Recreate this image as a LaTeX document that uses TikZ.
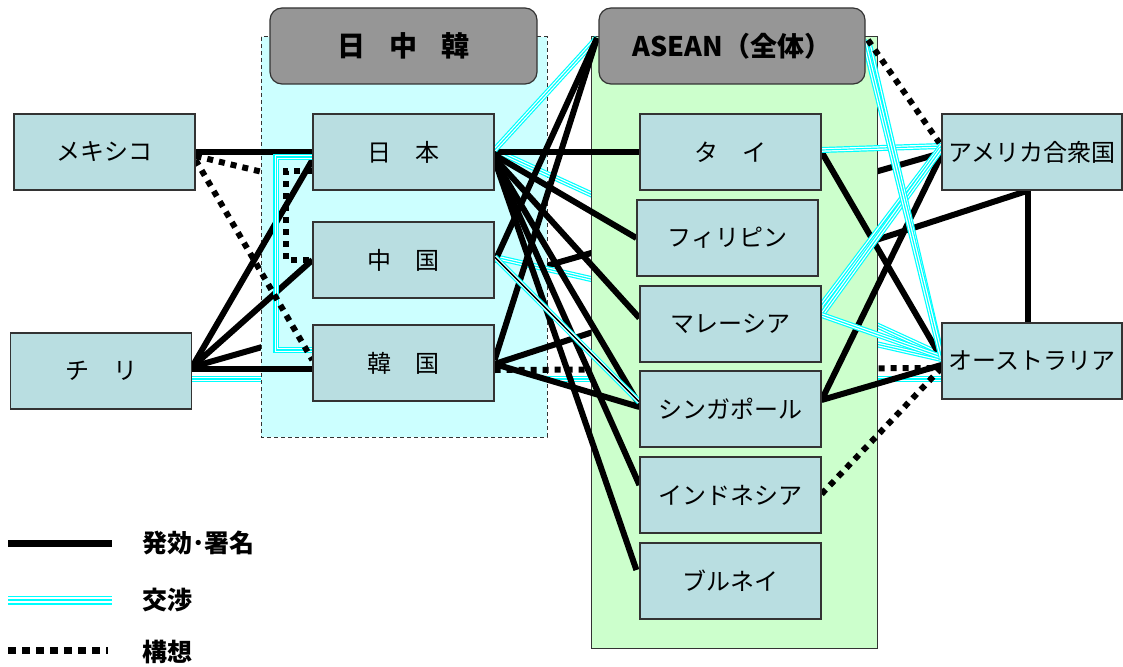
\documentclass[tikz,border=0pt]{standalone}
\usepackage{fontspec}
\newfontfamily\jp{Noto Sans CJK JP}
\usetikzlibrary{calc}
\pgfdeclarelayer{lzero}
\pgfdeclarelayer{lcjk}
\pgfdeclarelayer{lmid}
\pgfdeclarelayer{lase}
\pgfdeclarelayer{ltop}
\pgfsetlayers{lzero,lcjk,lmid,lase,ltop,main}
\definecolor{boxfill}{RGB}{185,222,225}
\definecolor{boxline}{RGB}{51,51,51}
\definecolor{cjkbg}{RGB}{204,255,255}
\definecolor{asbg}{RGB}{204,255,204}
\definecolor{hdr}{RGB}{150,150,150}
\definecolor{cyanc}{RGB}{0,255,255}
\begin{document}
\begin{tikzpicture}[x=1pt,y=-1pt,
 cbox/.style={draw=boxline, fill=boxfill, line width=1.2pt, minimum width=181pt, minimum height=76pt, inner sep=0pt, font=\jp\fontsize{24}{24}\selectfont},
 hbox/.style={draw=boxline, fill=hdr, line width=1.2pt, rounded corners=12pt, minimum height=76pt, inner sep=0pt, font=\jp\bfseries\fontsize{27}{27}\selectfont},
 sig/.style={draw=black, line width=6pt},
 neg/.style={draw=cyanc, line width=6pt, postaction={draw=white, line width=3.6pt}, postaction={draw=cyanc, line width=1.2pt}},
 negleg/.style={draw=cyanc, line width=9pt, postaction={draw=white, line width=5.4pt}, postaction={draw=cyanc, line width=2.2pt}},
 con/.style={draw=black, line width=6pt, dash pattern=on 6pt off 6pt},
 lgd/.style={font=\jp\bfseries\fontsize{25}{25}\selectfont, anchor=west, inner sep=0pt}]
\useasboundingbox (0,0) rectangle (1123,666);

% group backgrounds
\begin{pgfonlayer}{lcjk}
\draw[fill=cjkbg, draw=boxline, line width=1pt, dash pattern=on 4pt off 3pt] (261,37) rectangle (547,437);
\end{pgfonlayer}
\begin{pgfonlayer}{lase}
\draw[fill=asbg, draw=boxline, line width=1pt] (591,37) rectangle (877,648);
\end{pgfonlayer}

% headers
\node[hbox, minimum width=267pt, font=\jp\bfseries\fontsize{28}{28}\selectfont] (cjkh) at (403.5,46) {日\hspace{0.85em}中\hspace{0.85em}韓};
\node[hbox, minimum width=266pt] (ash) at (732,46) {ASEAN（全体）};
\coordinate (asL) at (597,38);
\coordinate (asR) at (868,40);

% country boxes
\node[cbox] (mex) at (104.5,152) {メキシコ};
\node[cbox] (chl) at (101,371) {チ　リ};
\node[cbox] (jpn) at (403.5,152) {日　本};
\node[cbox] (chn) at (403.5,260) {中　国};
\node[cbox] (kor) at (403.5,363) {韓　国};
\node[cbox] (tha) at (730.5,152) {タ　イ};
\node[cbox] (phl) at (727.5,238) {フィリピン};
\node[cbox] (mys) at (730.5,324) {マレーシア};
\node[cbox] (sgp) at (730.5,409) {シンガポール};
\node[cbox] (idn) at (730.5,495) {インドネシア};
\node[cbox] (brn) at (730.5,581) {ブルネイ};
\node[cbox, minimum width=180pt] (usa) at (1032,152) {アメリカ合衆国};
\node[cbox, minimum width=180pt] (aus) at (1032,361) {オーストラリア};

% lines hidden under both groups
\begin{pgfonlayer}{lzero}
\draw[neg] ([yshift=-8pt]chl.east) -- ([yshift=-18pt]aus.west);
\draw[sig] ([yshift=4pt]chl.east) -- ([yshift=-1pt]usa.west);
\draw[con] ([yshift=-4pt]mex.east) -- ([yshift=-32pt]jpn.west);
\end{pgfonlayer}

% lines hidden under the ASEAN group only
\begin{pgfonlayer}{lmid}
\draw[neg] ([yshift=2pt]jpn.east) -- ([yshift=6pt]aus.west);
\draw[neg] ([yshift=3pt]chn.east) -- ([yshift=2pt]aus.west);
\draw[sig] ([yshift=-1pt]kor.east) -- ([xshift=-4pt]usa.south);
\draw[con] ([yshift=-7pt]kor.east) -- ([yshift=-7pt]aus.west);
\end{pgfonlayer}

% visible lines
\begin{pgfonlayer}{ltop}
% left side
\draw[sig] (mex.east) -- (jpn.west);
\draw[sig] ([yshift=4pt]chl.east) -- ([yshift=-8pt]jpn.west);
\draw[sig] ([yshift=4pt]chl.east) -- (chn.west);
\draw[sig] ([yshift=2pt]chl.east) -- ([yshift=-6pt]kor.west);
\draw[neg] ([yshift=-5pt]jpn.west) -- ++(-36,0) |- ([yshift=13pt]kor.west);
\draw[con] ([yshift=-19pt]jpn.west) -- ++(-26,0) |- (chn.west);
\draw[con] ([yshift=-8pt]mex.east) -- ([yshift=3pt]kor.west);
% Japan fan
\draw[sig] (jpn.east) -- (tha.west);
\draw[sig] ([yshift=-3pt]jpn.east) -- (phl.west);
\draw[sig] ([yshift=-6pt]jpn.east) -- ([yshift=6pt]mys.west);
\draw[sig] ([yshift=-8pt]jpn.east) -- ([yshift=4pt]sgp.west);
\draw[sig] ([yshift=-8pt]jpn.east) -- ([yshift=10pt]idn.west);
\draw[sig] ([yshift=-8pt]jpn.east) -- ([xshift=-3pt,yshift=11pt]brn.west);
\draw[neg] ([yshift=2pt]jpn.east) -- (asL);
% China, Korea
\draw[sig] (asL) -- ([yshift=-2pt]chn.east);
\draw[sig] (asL) -- ([yshift=3pt]kor.east);
\draw[sig] ([yshift=-1pt]kor.east) -- ([yshift=2pt]sgp.west);
\draw[neg] ([yshift=3pt]chn.east) -- ([yshift=7pt]sgp.west);
\draw[black, line width=1.4pt] ([yshift=3pt]chn.east) -- ([yshift=7pt]sgp.west);
% right side
\draw[sig] (tha.east) -- ([yshift=3pt]aus.west);
\draw[sig] ([yshift=9pt]sgp.east) -- ([yshift=-3pt]usa.west);
\draw[sig] ([yshift=9pt]sgp.east) -- ([yshift=-4pt]aus.west);
\draw[sig] ([xshift=-4pt]usa.south) -- ([xshift=-4pt]aus.north);
\draw[neg] ([yshift=2pt]tha.east) -- ([yshift=6pt]usa.west);
\draw[neg] ([yshift=19pt]mys.east) -- ([yshift=6pt]usa.west);
\draw[neg] ([yshift=9pt]mys.east) -- ([yshift=3pt]usa.west);
\draw[neg] ([yshift=9pt]mys.east) -- ([yshift=4pt]aus.west);
\draw[neg] (asR) -- ([yshift=6pt]aus.west);
\draw[neg] ([xshift=-4pt]asR) -- ([yshift=4pt]aus.west);
\draw[con] (asR) -- ([xshift=-2pt,yshift=9pt]usa.west);
\draw[con] ([yshift=1pt]idn.east) -- ([yshift=-7pt]aus.west);
\end{pgfonlayer}

% legend
\coordinate (l1a) at (8,543);
\coordinate (l1b) at (112,543);
\coordinate (l2a) at (8,600);
\coordinate (l2b) at (112,600);
\coordinate (l3a) at (8,650);
\coordinate (l3b) at (108,650);
\draw[sig, line width=7pt] (l1a) -- (l1b);
\draw[negleg] (l2a) -- (l2b);
\draw[con, line width=7pt, dash pattern=on 8pt off 6pt] (l3a) -- (l3b);
\node[lgd] (t1) at (142,543) {発効･署名};
\node[lgd] (t2) at (142,600) {交渉};
\node[lgd] (t3) at (142,652) {構想};
\end{tikzpicture}
\end{document}
